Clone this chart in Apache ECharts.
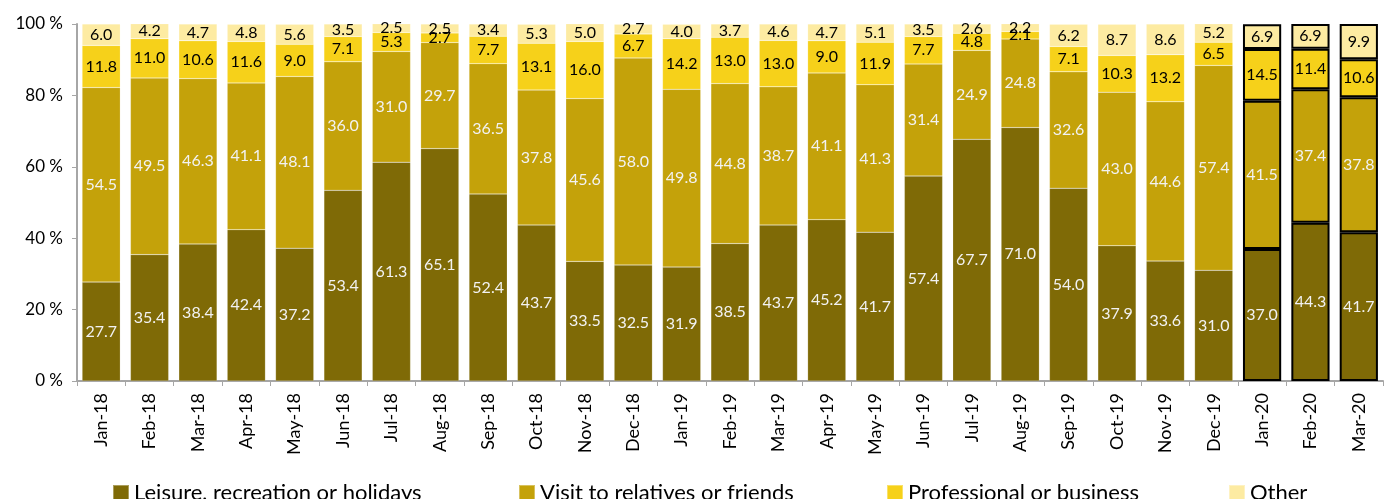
<!DOCTYPE html>
<html>
<head>
<meta charset="utf-8">
<script src="https://cdn.jsdelivr.net/npm/echarts@6/dist/echarts.min.js"></script>
<style>
  html, body { margin: 0; padding: 0; background: #fff; }
  #chart { width: 1384px; height: 499px; }
</style>
</head>
<body>
<div id="chart"></div>
<script>
// Months shown on the category axis
const months = ['Jan-18','Feb-18','Mar-18','Apr-18','May-18','Jun-18','Jul-18','Aug-18','Sep-18','Oct-18','Nov-18','Dec-18',
                'Jan-19','Feb-19','Mar-19','Apr-19','May-19','Jun-19','Jul-19','Aug-19','Sep-19','Oct-19','Nov-19','Dec-19',
                'Jan-20','Feb-20','Mar-20'];

// Share of trips by purpose (%)
const leisure      = [27.7,35.4,38.4,42.4,37.2,53.4,61.3,65.1,52.4,43.7,33.5,32.5,31.9,38.5,43.7,45.2,41.7,57.4,67.7,71.0,54.0,37.9,33.6,31.0,37.0,44.3,41.7];
const visit        = [54.5,49.5,46.3,41.1,48.1,36.0,31.0,29.7,36.5,37.8,45.6,58.0,49.8,44.8,38.7,41.1,41.3,31.4,24.9,24.8,32.6,43.0,44.6,57.4,41.5,37.4,37.8];
const professional = [11.8,11.0,10.6,11.6,9.0,7.1,5.3,2.7,7.7,13.1,16.0,6.7,14.2,13.0,13.0,9.0,11.9,7.7,4.8,2.1,7.1,10.3,13.2,6.5,14.5,11.4,10.6];
const other        = [6.0,4.2,4.7,4.8,5.6,3.5,2.5,2.5,3.4,5.3,5.0,2.7,4.0,3.7,4.6,4.7,5.1,3.5,2.6,2.2,6.2,8.7,8.6,5.2,6.9,6.9,9.9];

// Most recent months are outlined
const outlinedMonths = ['Jan-20','Feb-20','Mar-20'];

const yTicks = [0, 20, 40, 60, 80, 100];

const FONT = 'Lato, "Open Sans", sans-serif';

function withOutline(values) {
  return values.map((v, i) => outlinedMonths.includes(months[i])
    ? { value: v, itemStyle: { borderColor: '#000', borderWidth: 2 } }
    : v);
}

function makeSeries(name, values, color, labelColor) {
  return {
    name: name,
    type: 'bar',
    stack: 'total',
    barCategoryGap: '21%',
    data: withOutline(values),
    itemStyle: { color: color, borderColor: 'rgba(255,255,255,0.35)', borderWidth: 0.5 },
    label: {
      show: true,
      position: 'inside',
      color: labelColor,
      fontFamily: FONT,
      fontSize: 16,
      formatter: p => p.value.toFixed(1)
    },
    emphasis: { disabled: true }
  };
}

const chart = echarts.init(document.getElementById('chart'), null, { renderer: 'canvas' });

const legendBase = {
  top: 482,
  itemWidth: 16,
  itemHeight: 16,
  itemGap: 0,
  icon: 'rect',
  padding: 0,
  textStyle: { fontFamily: FONT, fontSize: 22, color: '#000', padding: [2, 0, 0, 0] }
};

chart.setOption({
  animation: false,
  grid: { left: 77, right: 1, top: 24, bottom: 118, containLabel: false },
  legend: [
    Object.assign({}, legendBase, { data: ['Leisure, recreation or holidays'], left: 112 }),
    Object.assign({}, legendBase, { data: ['Visit to relatives or friends'], left: 518 }),
    Object.assign({}, legendBase, { data: ['Professional or business'], left: 886 }),
    Object.assign({}, legendBase, { data: ['Other'], left: 1228 })
  ],
  xAxis: {
    type: 'category',
    data: months,
    axisLine: { lineStyle: { color: '#a6a6a6', width: 2 } },
    axisTick: { show: true, lineStyle: { color: '#a6a6a6' }, length: 5 },
    axisLabel: { rotate: 90, fontFamily: FONT, fontSize: 18, color: '#000', margin: 12 }
  },
  yAxis: {
    type: 'value',
    min: yTicks[0],
    max: yTicks[yTicks.length - 1],
    interval: 20,
    splitLine: { show: false },
    axisLine: { show: true, lineStyle: { color: '#a6a6a6', width: 2 } },
    axisTick: { show: true, lineStyle: { color: '#a6a6a6' }, length: 5 },
    axisLabel: { fontFamily: FONT, fontSize: 17, color: '#000', margin: 14, formatter: v => v + ' %' }
  },
  series: [
    makeSeries('Leisure, recreation or holidays', leisure, '#7f6a06', '#f2f2f2'),
    makeSeries('Visit to relatives or friends', visit, '#c4a20a', '#f2f2f2'),
    makeSeries('Professional or business', professional, '#f6d11a', '#000'),
    makeSeries('Other', other, '#fdeba2', '#000')
  ]
});
</script>
</body>
</html>
